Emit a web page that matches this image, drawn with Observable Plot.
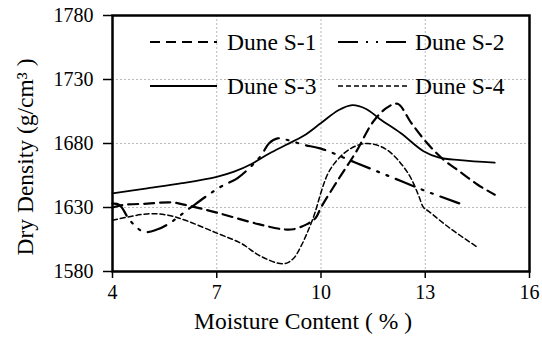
<!DOCTYPE html>
<html><head><meta charset="utf-8">
<script src="https://cdn.jsdelivr.net/npm/d3@7"></script>
<script src="https://cdn.jsdelivr.net/npm/@observablehq/plot@0.6"></script>
<style>
body{margin:0;background:#fff}
#chart{position:relative;width:542px;height:345px}
#chart svg, #chart svg text{font-family:"Liberation Serif","Times New Roman",serif !important;}
</style>
</head><body><div id="chart"></div>
<script>
const seriesNames = ["Dune S-1", "Dune S-2", "Dune S-3", "Dune S-4"];
const xTicks = [4, 7, 10, 13, 16];
const yTicks = [1580, 1630, 1680, 1730, 1780];
const xTitle = "Moisture Content ( % )";
const yTitle = "Dry Density (g/cm³ )";

const s1x = [4, 4.3, 5, 5.7, 6.1, 7, 8.2, 8.9, 9.2, 9.6, 9.85, 10, 10.5, 11, 11.5, 11.9, 12.2, 12.6, 13, 13.5, 14, 14.5, 15];
const s1y = [1630, 1632, 1633, 1634, 1632, 1626, 1617, 1613, 1613, 1617, 1622, 1630, 1652, 1673, 1697, 1708, 1711, 1696, 1682, 1668, 1658, 1648, 1640];

const s2x = [4, 4.2, 4.5, 4.9, 5.3, 5.6, 6.2, 7.1, 7.6, 8.26, 8.5, 8.75, 9, 9.5, 10, 11, 12, 13, 14];
const s2y = [1633, 1632, 1620, 1611, 1613, 1617, 1629, 1646, 1653, 1670, 1680, 1684, 1683, 1679, 1676, 1665, 1654, 1643, 1633];

const s3x = [4, 5, 6, 7, 7.5, 8, 8.5, 9, 9.5, 10, 10.5, 10.9, 11.3, 11.7, 12.3, 12.95, 13.4, 14, 15];
const s3y = [1641, 1645, 1649, 1654, 1658, 1664, 1672, 1679, 1686, 1696, 1706, 1710, 1707, 1699, 1688, 1674, 1669, 1667, 1665];

const s4x = [4, 5, 5.6, 6.1, 7, 7.7, 8.26, 8.92, 9.2, 9.41, 9.75, 10.27, 10.85, 11.34, 11.9, 12.5, 12.8, 12.95, 13.1, 13.7, 14.5];
const s4y = [1620, 1625, 1624, 1620, 1610, 1602, 1592, 1586, 1590, 1599, 1620, 1660, 1676, 1680, 1675, 1657, 1640, 1630, 1627, 1614, 1599];

const styles = [
  {dash: "10,6", width: 2.2},
  {dash: "20,8,2,8,2,8", width: 2.2},
  {dash: null, width: 1.8},
  {dash: "5,3", width: 1.5}
];
const xs = [s1x, s2x, s3x, s4x];
const ys = [s1y, s2y, s3y, s4y];

const lineMarks = xs.map((xv, i) => Plot.line(xv, {
  x: xv, y: ys[i], curve: "catmull-rom", stroke: "black",
  strokeWidth: styles[i].width, strokeDasharray: styles[i].dash
}));

const chart = Plot.plot({
  width: 542, height: 345,
  marginLeft: 112, marginRight: 13, marginTop: 15, marginBottom: 74,
  style: {background: "white", color: "black"},
  x: {domain: [4, 16]},
  y: {domain: [1580, 1780]},
  marks: [
    Plot.gridX(xTicks.slice(1, -1), {stroke: "#b8b8b8", strokeOpacity: 1, strokeDasharray: "2,2"}),
    Plot.gridY(yTicks.slice(1, -1), {stroke: "#b8b8b8", strokeOpacity: 1, strokeDasharray: "2,2"}),
    ...lineMarks,
    Plot.frame({stroke: "black", strokeWidth: 2.5}),
    Plot.axisX(xTicks, {tickSize: 7, tickPadding: 6, fontSize: 20, label: null, strokeWidth: 1.5, tickFormat: d => String(d)}),
    Plot.axisY(yTicks, {tickSize: 9, tickPadding: 10, fontSize: 20, label: null, strokeWidth: 1.5, tickFormat: d => String(d)}),
    Plot.text([xTitle], {text: d => d, frameAnchor: "bottom", dx: -18, dy: 57, fontSize: 23.5})
  ]
});
document.getElementById("chart").appendChild(chart);

const svg = d3.select(chart);
// Y axis title
svg.append("text")
  .attr("transform", "translate(33,157) rotate(-90)")
  .attr("text-anchor", "middle")
  .attr("font-size", 23.5)
  .attr("fill", "black")
  .text(yTitle);

// Legend inside the plot area (two rows, two columns)
const lg = svg.append("g").attr("font-size", 23.5).attr("text-anchor", "start");
const legendPos = [
  {x1: 150, x2: 217, tx: 227, y: 42},
  {x1: 338, x2: 408, tx: 415, y: 42},
  {x1: 150, x2: 217, tx: 227, y: 86},
  {x1: 338, x2: 408, tx: 415, y: 86}
];
seriesNames.forEach((name, i) => {
  const p = legendPos[i];
  lg.append("line").attr("x1", p.x1).attr("x2", p.x2).attr("y1", p.y).attr("y2", p.y)
    .attr("stroke", "black").attr("stroke-width", styles[i].width)
    .attr("stroke-dasharray", styles[i].dash);
  lg.append("text").attr("x", p.tx).attr("y", p.y).attr("dy", "0.35em")
    .attr("text-anchor", "start").attr("fill", "black").text(name);
});
</script></body></html>
